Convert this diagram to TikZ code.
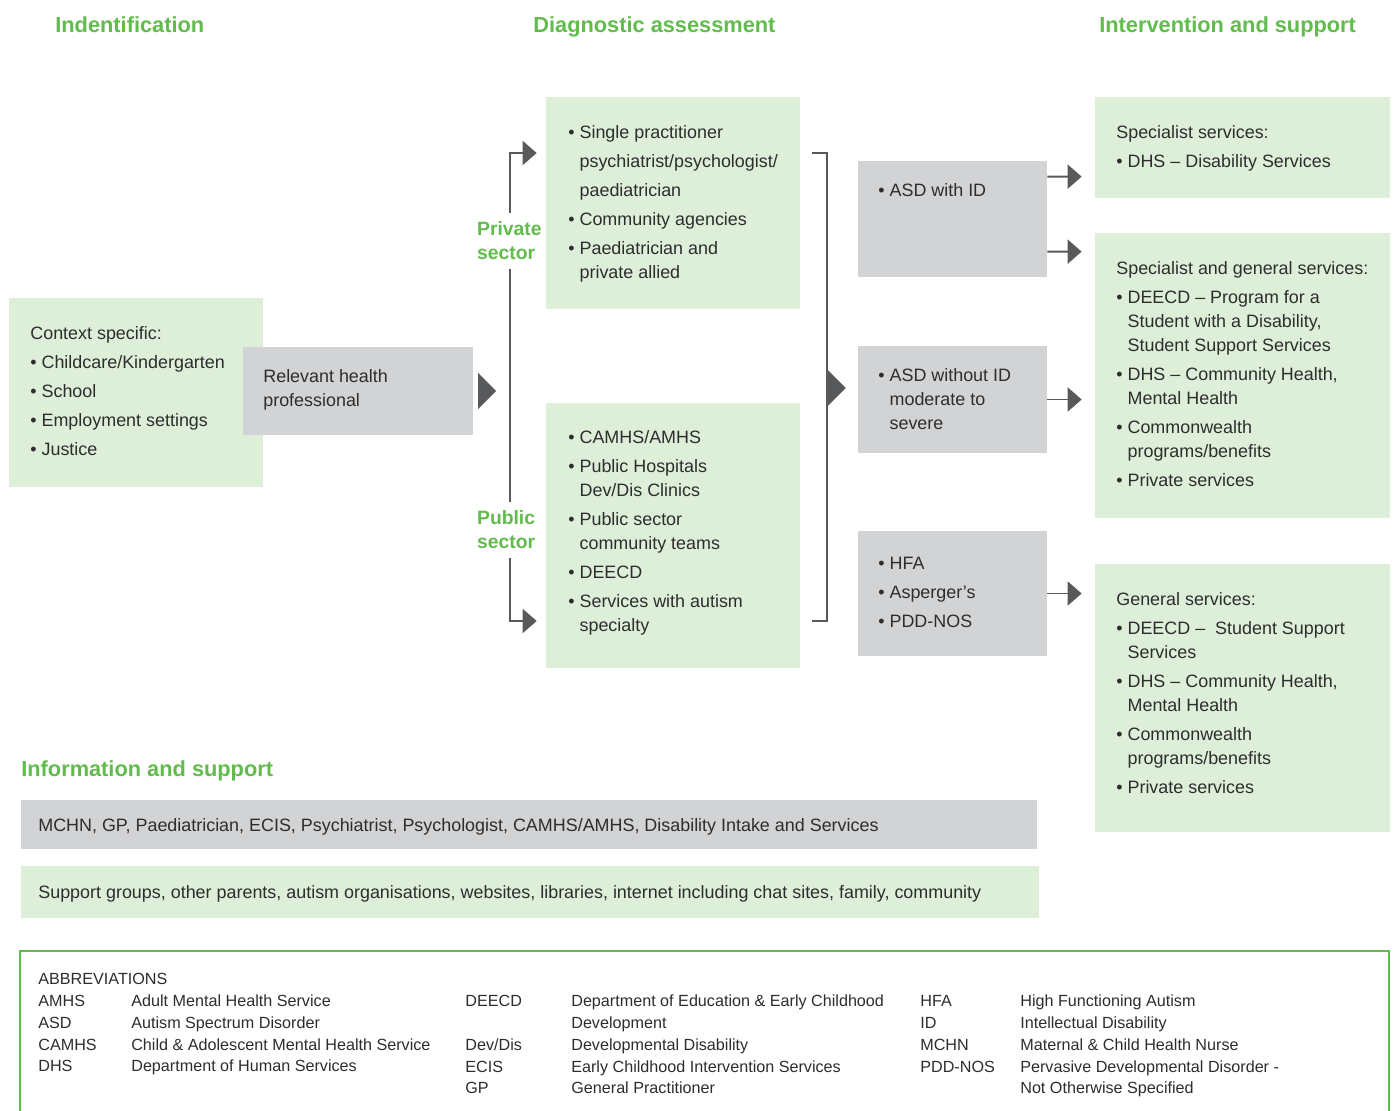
\documentclass[tikz,border=0pt]{standalone}
\usepackage{fontspec}
\setmainfont{Liberation Sans}
\usetikzlibrary{arrows.meta, positioning, calc, fit}

\definecolor{headgreen}{RGB}{98,187,77}
\definecolor{lightgreen}{RGB}{221,239,216}
\definecolor{lightgray}{RGB}{210,211,213}
\definecolor{arrowgray}{RGB}{88,89,91}
\definecolor{textgray}{RGB}{45,45,45}

\newcommand{\bl}{\textbullet\ }
\newcommand{\ind}{\phantom{\textbullet\ }}
\newcommand{\sk}{2.85pt}

\begin{document}
\begin{tikzpicture}[
  x=0.02cm, y=-0.02cm,
  greenbox/.style={fill=lightgreen, inner sep=0pt},
  graybox/.style={fill=lightgray, inner sep=0pt},
  head/.style={anchor=base west, inner sep=0pt, text=headgreen, font=\bfseries\fontsize{12.4}{15}\selectfont},
  sector/.style={anchor=west, align=left, fill=white, inner xsep=1pt, inner ysep=5pt, text=headgreen, font=\bfseries\fontsize{11}{13.7}\selectfont},
  body/.style={anchor=north west, inner sep=0pt, align=left, text=textgray, font=\fontsize{10.2}{13.7}\selectfont},
  barlabel/.style={anchor=base west, inner sep=0pt, text=textgray, font=\fontsize{10.2}{13.7}\selectfont},
  abbrev/.style={anchor=north west, inner sep=0pt, text=textgray, font=\fontsize{9.2}{12.5}\selectfont},
  line/.style={draw=arrowgray, line width=1.1pt},
  flow/.style={line, -{Triangle[length=0.28cm, width=0.48cm]}},
  twoway/.style={line, {Triangle[length=0.28cm, width=0.48cm]}-{Triangle[length=0.28cm, width=0.48cm]}},
  bigtip/.style={draw=arrowgray, line width=0.1pt, -{Triangle[length=0.36cm, width=0.72cm]}}
]
\useasboundingbox (0,0) rectangle (1394,1110);

% Column headings
\node[head] (hident) at (55,32) {Indentification};
\node[head] (hdiag) at (533,32) {Diagnostic assessment};
\node[head] (hinter) at (1099,32) {Intervention and support};

% Identification
\node[greenbox, fit={(9,298) (263,487)}] (ctx) {};
\node[body] (ctxtext) at (30,326) {Context specific:\\[\sk]
  \bl Childcare/Kindergarten\\[\sk]
  \bl School\\[\sk]
  \bl Employment settings\\[\sk]
  \bl Justice};
\node[graybox, fit={(243,347) (473,435)}] (rel) {};
\node[body] (reltext) at (263,369) {Relevant health\\professional};

% Diagnostic assessment
\node[greenbox, fit={(546,97) (800,309)}] (priv) {};
\node[body] (privtext) at (568,125) {\bl Single practitioner\\[\sk]
  \ind psychiatrist/psychologist/\\[\sk]
  \ind paediatrician\\[\sk]
  \bl Community agencies\\[\sk]
  \bl Paediatrician and\\
  \ind private allied};
\node[greenbox, fit={(546,403) (800,668)}] (pub) {};
\node[body] (pubtext) at (568,430) {\bl CAMHS/AMHS\\[\sk]
  \bl Public Hospitals\\
  \ind Dev/Dis Clinics\\[\sk]
  \bl Public sector\\
  \ind community teams\\[\sk]
  \bl DEECD\\[\sk]
  \bl Services with autism\\
  \ind specialty};

% Split to private / public
\coordinate (split) at (510,391);
\draw[bigtip, shorten <=0.1cm, shorten >=0.28cm] (rel.east) -- (rel.east -| split);
\draw[twoway] ($(priv.west)+(-9,-50)$) -| (split) |- ($(pub.west)+(-9,85.5)$);
\node[sector] (privlab) at (475,241) {Private\\sector};
\node[sector] (publab) at (475,530) {Public\\sector};

% Diagnosis outcomes
\node[graybox, fit={(858,161) (1047,277)}] (asdid) {};
\node[body] (asdidtext) at (878,183) {\bl ASD with ID};
\node[graybox, fit={(858,346) (1047,453)}] (asdno) {};
\node[body] (asdnotext) at (878,368) {\bl ASD without ID\\
  \ind moderate to\\
  \ind severe};
\node[graybox, fit={(858,531) (1047,656)}] (hfa) {};
\node[body] (hfatext) at (878,557) {\bl HFA\\[\sk]
  \bl Asperger’s\\[\sk]
  \bl PDD-NOS};

% Bracket
\coordinate (gather) at (827,388);
\draw[line] ($(priv.east)+(12,-50)$) -| (gather) |- ($(pub.east)+(12,85.5)$);
\draw[bigtip, shorten <=0.02cm, shorten >=0.24cm] (gather) -- (gather -| asdno.west);

% Intervention and support
\node[greenbox, fit={(1095,97) (1390,198)}] (spec) {};
\node[body] (spectext) at (1116,125) {Specialist services:\\[\sk]
  \bl DHS – Disability Services};
\node[greenbox, fit={(1095,233) (1390,518)}] (specgen) {};
\node[body] (specgentext) at (1116,261) {Specialist and general services:\\[\sk]
  \bl DEECD – Program for a\\
  \ind Student with a Disability,\\
  \ind Student Support Services\\[\sk]
  \bl DHS – Community Health,\\
  \ind Mental Health\\[\sk]
  \bl Commonwealth\\
  \ind programs/benefits\\[\sk]
  \bl Private services};
\node[greenbox, fit={(1095,564) (1390,832)}] (gen) {};
\node[body] (gentext) at (1116,592) {General services:\\[\sk]
  \bl DEECD –\ \ Student Support\\
  \ind Services\\[\sk]
  \bl DHS – Community Health,\\
  \ind Mental Health\\[\sk]
  \bl Commonwealth\\
  \ind programs/benefits\\[\sk]
  \bl Private services};

\draw[flow, shorten >=0.26cm] ($(asdid.north east)+(0,16)$) -- ($(spec.north west)+(0,80)$);
\draw[flow, shorten >=0.26cm] ($(asdid.north east)+(0,91)$) -- ($(specgen.north west)+(0,19)$);
\draw[flow, shorten >=0.26cm] (asdno.east) -- (asdno.east -| specgen.west);
\draw[flow, shorten >=0.26cm] (hfa.east) -- (hfa.east -| gen.west);

% Information and support
\node[head] (hinfo) at (21,776) {Information and support};
\node[graybox, fit={(21,800) (1037,849)}] (profbar) {};
\node[barlabel] (proftext) at (38,831.5) {MCHN, GP, Paediatrician, ECIS, Psychiatrist, Psychologist, CAMHS/AMHS, Disability Intake and Services};
\node[greenbox, fit={(21,866) (1039,918)}] (supbar) {};
\node[barlabel] (suptext) at (38,898.5) {Support groups, other parents, autism organisations, websites, libraries, internet including chat sites, family, community};

% Abbreviations
\node[draw=headgreen, line width=0.8pt, inner sep=0pt, fit={(20,951) (1389,1130)}] (abbr) {};
\node[abbrev] (abbrA) at (38,968.4) {\begin{tabular}{@{}p{1.86cm}@{}l@{}}
  \multicolumn{2}{@{}l@{}}{ABBREVIATIONS}\\
  AMHS & Adult Mental Health Service\\
  ASD & Autism Spectrum Disorder\\
  CAMHS & Child \& Adolescent Mental Health Service\\
  DHS & Department of Human Services
\end{tabular}};
\node[abbrev] (abbrB) at (465,990.4) {\begin{tabular}{@{}p{2.12cm}@{}l@{}}
  DEECD & Department of Education \& Early Childhood\\
   & Development\\
  Dev/Dis & Developmental Disability\\
  ECIS & Early Childhood Intervention Services\\
  GP & General Practitioner
\end{tabular}};
\node[abbrev] (abbrC) at (920,990.4) {\begin{tabular}{@{}p{2.0cm}@{}l@{}}
  HFA & High Functioning Autism\\
  ID & Intellectual Disability\\
  MCHN & Maternal \& Child Health Nurse\\
  PDD-NOS & Pervasive Developmental Disorder -\\
   & Not Otherwise Specified
\end{tabular}};

\end{tikzpicture}
\end{document}
